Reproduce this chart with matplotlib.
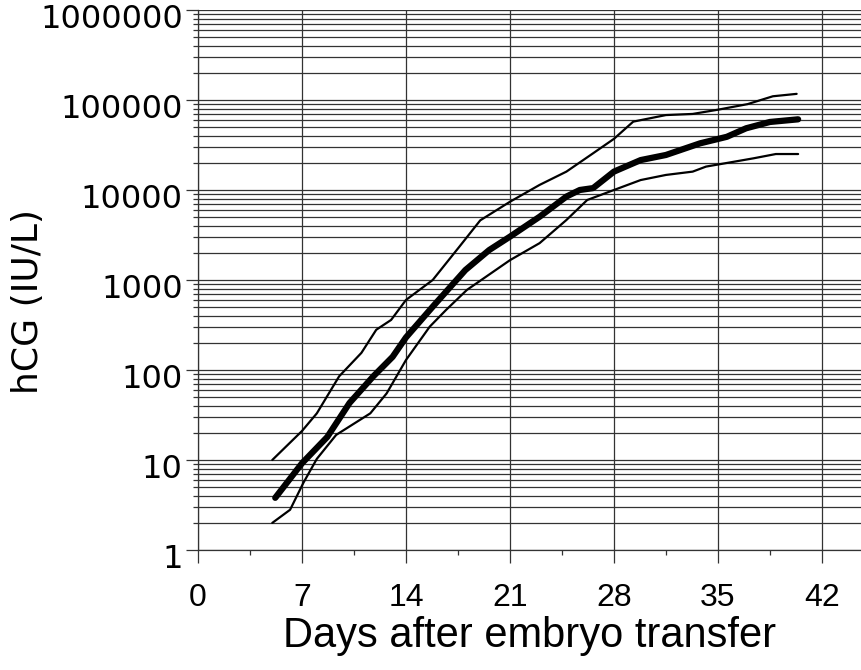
import matplotlib
matplotlib.use("Agg")
import matplotlib.pyplot as plt
import matplotlib.ticker as mticker
import matplotlib.transforms as mtransforms

# ---- data ----
upper_days = [5, 7, 8, 9.5, 11, 12, 13, 14, 15.8, 17.6, 19, 21, 23, 24.8,
              26.6, 28, 29.3, 31.5, 33.3, 35, 37, 38.7, 40.3]
upper_vals = [10, 21, 33, 85, 155, 280, 360, 600, 1000, 2350, 4600, 7400,
              11400, 16000, 25600, 37000, 57500, 68000, 70000, 78000, 90000,
              110000, 117000]

median_days = [5.2, 7, 8.7, 10.2, 11.8, 13.1, 14, 15.8, 18, 19.6, 21, 23,
               24.8, 25.7, 26.6, 28, 29.8, 31.5, 33.8, 35.6, 36.9, 38.5, 40.4]
median_vals = [3.8, 9.2, 18, 43, 85, 140, 230, 505, 1290, 2150, 3030, 5050,
               8450, 10000, 10500, 16000, 21500, 24500, 33000, 39000, 48500,
               57000, 61000]

lower_days = [5, 6.2, 7.1, 8, 9.3, 11.6, 12.7, 14, 15.6, 16.7, 18.1, 21, 23,
              24.8, 26.2, 28, 29.8, 31.5, 33.3, 34.2, 36, 37.4, 38.9, 40.4]
lower_vals = [2.0, 2.8, 5.6, 10.3, 19, 33, 55, 129, 303, 465, 775, 1660,
              2570, 4640, 7740, 10000, 12900, 14700, 16000, 18200, 20500,
              22500, 25100, 25100]

x_ticks = [0, 7, 14, 21, 28, 35, 42]
y_ticks = [1, 10, 100, 1000, 10000, 100000, 1000000]
y_tick_labels = ["1", "10", "100", "1000", "10000", "100000", "1000000"]

# ---- figure ----
W, H = 862, 670
fig = plt.figure(figsize=(W / 100, H / 100), dpi=100)
ax = fig.add_axes([198 / W, (H - 550) / H, (W - 198) / W, 540 / H])

ax.set_yscale("log")
ax.set_ylim(1, 1000000)
ax.set_xlim(0, 44.7)

grid_col = "#333333"
ax.set_xticks(x_ticks)
ax.set_xticks([3.5 + 7 * i for i in range(6)], minor=True)
ax.set_yticks(y_ticks)
ax.set_yticklabels(y_tick_labels)
ax.yaxis.set_minor_locator(mticker.LogLocator(base=10, subs=range(2, 10), numticks=20))
ax.yaxis.set_minor_formatter(mticker.NullFormatter())

ax.grid(True, which="major", axis="x", color=grid_col, lw=0.9)
ax.grid(True, which="both", axis="y", color=grid_col, lw=0.9)
ax.set_axisbelow(True)

for s in ["top", "right"]:
    ax.spines[s].set_visible(False)
for s in ["left", "bottom"]:
    ax.spines[s].set_color(grid_col)
    ax.spines[s].set_linewidth(0.9)

ax.tick_params(axis="x", which="major", direction="out", length=9, width=0.9,
               color=grid_col, pad=15, labelsize=23)
ax.tick_params(axis="x", which="minor", direction="out", length=3.5, width=0.9,
               color=grid_col)
ax.tick_params(axis="y", which="major", direction="out", length=9, width=0.9,
               color=grid_col, pad=2, labelsize=23)
ax.tick_params(axis="y", which="minor", direction="out", length=3.5, width=0.9,
               color=grid_col)

for lab in ax.get_xticklabels():
    lab.set_family(["Liberation Sans", "DejaVu Sans"])
offset = mtransforms.ScaledTranslation(0, -6 / 100, fig.dpi_scale_trans)
for lab in ax.get_yticklabels():
    lab.set_family("DejaVu Sans")
    lab.set_transform(lab.get_transform() + offset)

# ---- curves ----
ax.plot(upper_days, upper_vals, color="black", lw=1.6, solid_capstyle="round",
        solid_joinstyle="round", zorder=3)
ax.plot(lower_days, lower_vals, color="black", lw=1.6, solid_capstyle="round",
        solid_joinstyle="round", zorder=3)
ax.plot(median_days, median_vals, color="black", lw=4.5, solid_capstyle="round",
        solid_joinstyle="round", zorder=4)

ax.set_xlabel("Days after embryo transfer", fontsize=30,
              family=["Liberation Sans", "DejaVu Sans"], labelpad=2)
fig.text(28 / W, 1 - 302 / H, "hCG (IU/L)", rotation=90, ha="center", va="center",
         fontsize=26, family="DejaVu Sans")

fig.savefig("out.png", dpi=100)
